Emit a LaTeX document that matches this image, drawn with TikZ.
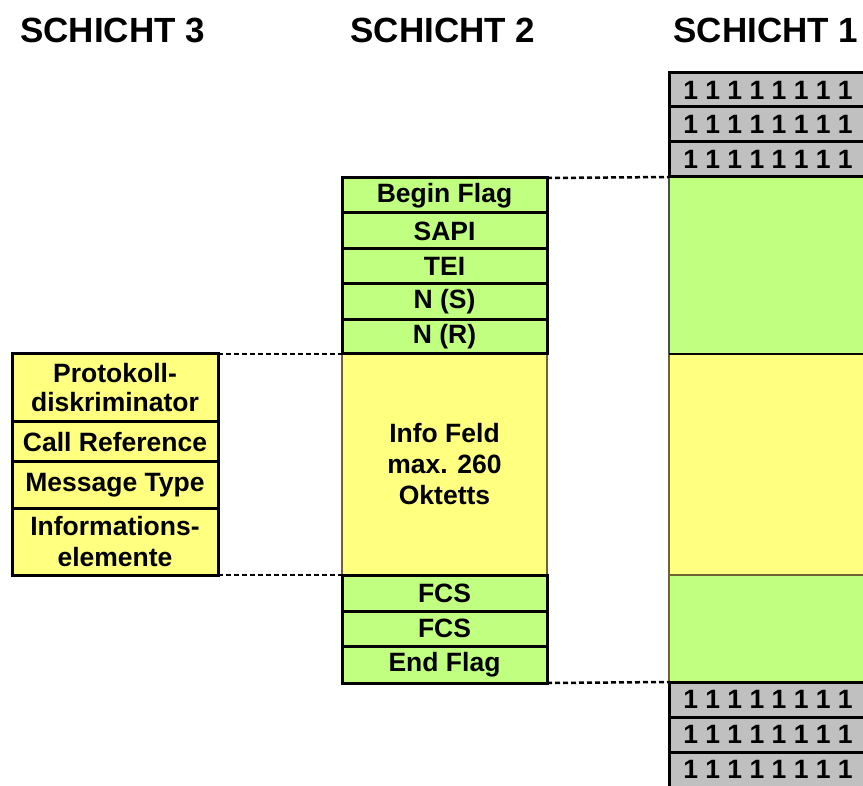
\documentclass[tikz,border=0pt]{standalone}
\usepackage{fontspec}
\setmainfont{Liberation Sans}
\definecolor{lgreen}{RGB}{192,255,128}
\definecolor{lyellow}{RGB}{255,255,128}
\definecolor{lgray}{RGB}{192,192,192}
\definecolor{olive}{RGB}{110,100,50}
\begin{document}
\begin{tikzpicture}[x=1pt,y=-1pt,
  cell/.style={draw=black,line width=3pt,inner sep=0pt,outer sep=0pt,align=center,
    font=\bfseries\fontsize{26.5}{29}\selectfont},
  gcell/.style={cell,fill=lgreen},
  ycell/.style={cell,fill=lyellow},
  bitcell/.style={cell,fill=lgray,minimum width=198pt,minimum height=35pt},
  title/.style={font=\bfseries\fontsize{35}{38}\selectfont,inner sep=0pt,anchor=base},
  dashconn/.style={line width=2.5pt,dash pattern=on 5pt off 3pt}]
\useasboundingbox (0,0) rectangle (863,786);
\clip (0,0) rectangle (863,786);
% titles
\node[title] (t3) at (112.5,43) {SCHICHT 3};
\node[title] (t2) at (443,43) {SCHICHT 2};
\node[title] (t1) at (766,43) {SCHICHT 1};
% Schicht 1
\node[gcell,draw=black!70,line width=1.6pt,minimum width=198pt,minimum height=177pt] (s1g1) at (768,265.5) {};
\node[ycell,draw=olive,line width=1.6pt,minimum width=198pt,minimum height=221pt] (s1y) at (768,464.5) {};
\node[gcell,draw=olive,line width=1.6pt,minimum width=198pt,minimum height=107pt] (s1g2) at (768,628.5) {};
\draw[line width=2.6pt] (s1y.north west) -- (s1y.north east);
\node[bitcell] (b1) at (768,90) {1 1 1 1 1 1 1 1};
\node[bitcell] (b2) at (768,124.5) {1 1 1 1 1 1 1 1};
\node[bitcell] (b3) at (768,159.5) {1 1 1 1 1 1 1 1};
\node[bitcell] (b4) at (768,699.5) {1 1 1 1 1 1 1 1};
\node[bitcell] (b5) at (768,734.5) {1 1 1 1 1 1 1 1};
\node[bitcell] (b6) at (768,769.5) {1 1 1 1 1 1 1 1};
% Schicht 2
\node[ycell,draw=olive,line width=1.3pt,minimum width=205pt,minimum height=221pt,
  font=\bfseries\fontsize{26.5}{31}\selectfont] (info) at (444.5,464.5) {Info Feld\\max. 260\\Oktetts};
\node[gcell,minimum width=205pt,minimum height=35pt] (bf) at (444.5,195.5) {Begin Flag};
\node[gcell,minimum width=205pt,minimum height=36pt] (sapi) at (444.5,231) {SAPI};
\node[gcell,minimum width=205pt,minimum height=35pt] (tei) at (444.5,266.5) {TEI};
\node[gcell,minimum width=205pt,minimum height=36pt] (ns) at (444.5,302) {N (S)};
\node[gcell,minimum width=205pt,minimum height=34pt] (nr) at (444.5,337) {N (R)};
\node[gcell,minimum width=205pt,minimum height=36pt] (fcs1) at (444.5,593) {FCS};
\node[gcell,minimum width=205pt,minimum height=35pt] (fcs2) at (444.5,628.5) {FCS};
\node[gcell,minimum width=205pt,minimum height=37pt] (ef) at (444.5,664.5) {End Flag};
% Schicht 3
\node[ycell,minimum width=206pt,minimum height=68pt] (pd) at (115,388) {Protokoll-\\diskriminator};
\node[ycell,minimum width=206pt,minimum height=40pt] (cr) at (115,442) {Call Reference};
\node[ycell,minimum width=206pt,minimum height=46pt] (mt) at (115,485) {Message Type};
\node[ycell,minimum width=206pt,minimum height=67pt,
  font=\bfseries\fontsize{26.5}{31}\selectfont] (ie) at (115,541.5) {Informations-\\elemente};
% dashed connectors
\draw[dashconn] (pd.north east) -- (info.north west);
\draw[dashconn] (ie.south east) -- (info.south west);
\draw[dashconn] (bf.north east) -- (s1g1.north west);
\draw[dashconn] (ef.south east) -- (s1g2.south west);
\end{tikzpicture}
\end{document}
